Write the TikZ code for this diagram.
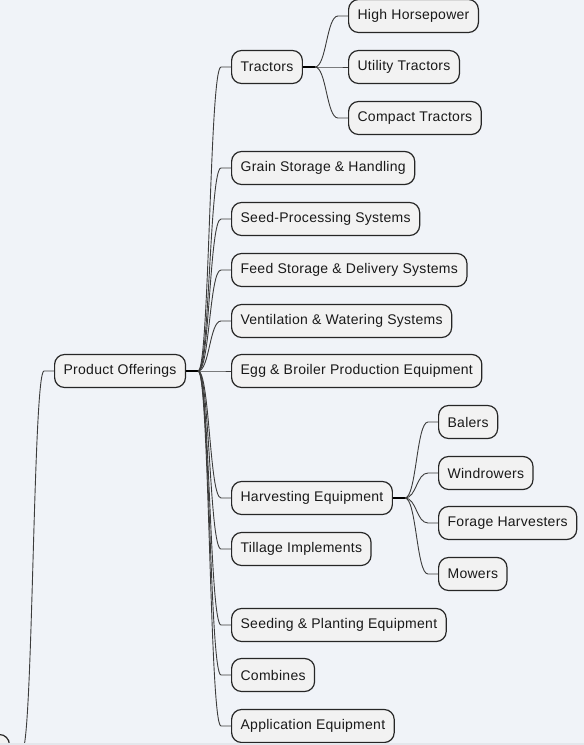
\documentclass[tikz,border=0pt]{standalone}
\usepackage{fontspec}
\setmainfont{Liberation Sans}[LetterSpace=2]
\usetikzlibrary{calc}
\definecolor{bg}{RGB}{240,243,248}
\definecolor{strip}{RGB}{228,231,236}
\definecolor{box}{RGB}{242,242,242}
\definecolor{rim}{RGB}{38,38,38}
\definecolor{wire}{RGB}{60,60,60}
\tikzset{
  topic/.style={draw=rim, fill=box, line width=1.2pt, rounded corners=10pt,
    minimum height=33pt, inner xsep=9pt, anchor=west, text=black!90,
    font=\fontsize{14}{16}\selectfont},
  wirelink/.style={draw=wire, line width=0.9pt},
  stubline/.style={draw=black, line width=2pt}
}
% curved link from a junction to the west side of a topic
\newcommand{\branch}[2]{\draw[wirelink] let \p1=(#1), \p2=([xshift=-10pt]#2.west) in
  (\p1) .. controls ({(\x1+\x2)/2},\y1) and ({(\x1+\x2)/2},\y2) .. (\p2) -- (#2.west);}
\newcommand{\junction}[2]{\coordinate (#2) at ([xshift=12pt]#1.east);
  \draw[stubline] (#1.east) -- (#2);}
\begin{document}
\begin{tikzpicture}[x=1pt,y=-1pt]
\useasboundingbox[fill=bg] (0,0) rectangle (584,745);
% root, mostly off the page
\node[topic, anchor=east, minimum width=120pt] (root) at (10,751) {};
\junction{root}{rj}
\node[topic] (po) at (54,371) {Product Offerings};
\branch{rj}{po}
\junction{po}{pj}
\foreach \nm/\y/\txt in {trac/67/Tractors, grain/168/Grain Storage \& Handling,
    seed/219/Seed-Processing Systems, feed/270/Feed Storage \& Delivery Systems,
    vent/321/Ventilation \& Watering Systems, egg/371/Egg \& Broiler Production Equipment,
    harv/498/Harvesting Equipment, till/549/Tillage Implements,
    sow/625/Seeding \& Planting Equipment, comb/675/Combines,
    appl/726/Application Equipment}{
  \node[topic] (\nm) at (231,\y) {\txt};
  \branch{pj}{\nm}
}
\junction{trac}{tj}
\foreach \nm/\y/\txt in {hp/16/High Horsepower, util/67/Utility Tractors,
    comp/118/Compact Tractors}{
  \node[topic] (\nm) at (348,\y) {\txt};
  \branch{tj}{\nm}
}
\junction{harv}{hj}
\foreach \nm/\y/\txt in {bal/422/Balers, wind/473/Windrowers,
    forage/523/Forage Harvesters, mow/574/Mowers}{
  \node[topic] (\nm) at (438,\y) {\txt};
  \branch{hj}{\nm}
}
\fill[strip] (0,743) rectangle (584,745);
\end{tikzpicture}
\end{document}
